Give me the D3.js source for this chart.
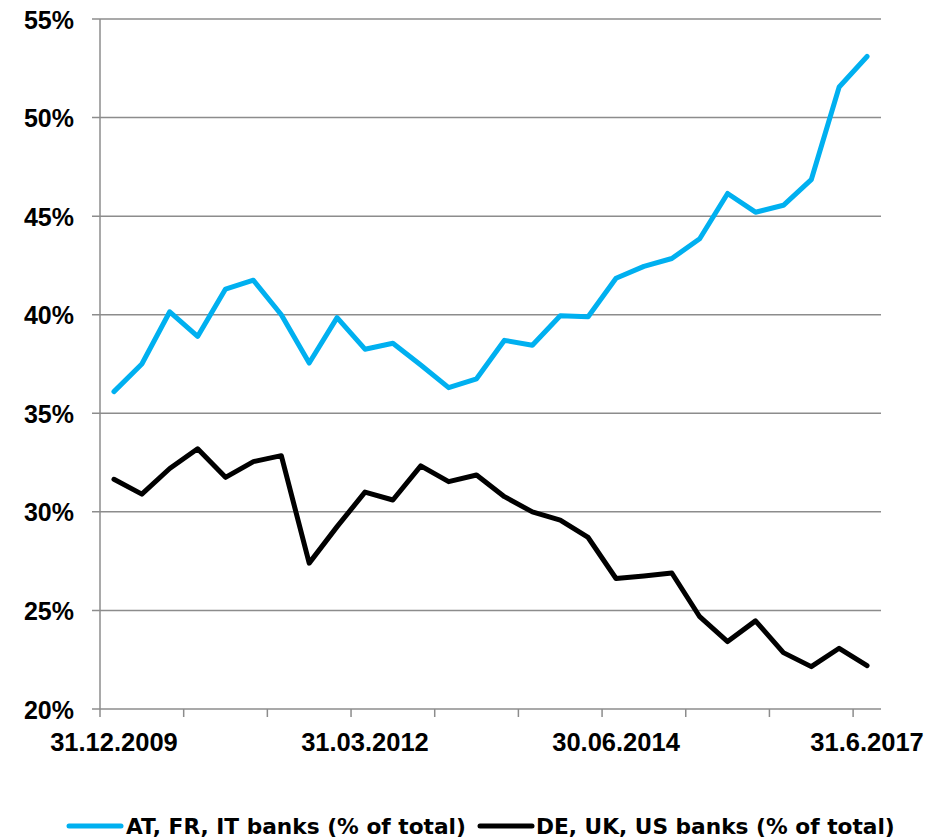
<!DOCTYPE html>
<html>
<head>
<meta charset="utf-8">
<script src="https://cdn.jsdelivr.net/npm/d3@7/dist/d3.min.js"></script>
<style>
  html, body { margin: 0; padding: 0; background: #fff; }
  svg { display: block; }
</style>
</head>
<body>
<svg id="chart" width="943" height="839"></svg>
<script>
// Quarter-end reporting dates
const quarters = [
  "31.12.2009", "31.03.2010", "30.06.2010", "30.09.2010",
  "31.12.2010", "31.03.2011", "30.06.2011", "30.09.2011",
  "31.12.2011", "31.03.2012", "30.06.2012", "30.09.2012",
  "31.12.2012", "31.03.2013", "30.06.2013", "30.09.2013",
  "31.12.2013", "31.03.2014", "30.06.2014", "30.09.2014",
  "31.12.2014", "31.03.2015", "30.06.2015", "30.09.2015",
  "31.12.2015", "31.03.2016", "30.06.2016", "30.09.2016"
];

// Labels printed under the axis, keyed by category position
const axisLabelIndex = [0, 9, 18, 27];
const axisLabelText = ["31.12.2009", "31.03.2012", "30.06.2014", "31.6.2017"];

// Share of total (%)
const atFrItBanks = [
  36.1, 37.5, 40.15, 38.9, 41.3, 41.75, 40.0, 37.55, 39.85, 38.25,
  38.55, 37.45, 36.3, 36.75, 38.7, 38.45, 39.95, 39.9, 41.85, 42.45,
  42.85, 43.85, 46.15, 45.2, 45.55, 46.85, 51.55, 53.1
];
const deUkUsBanks = [
  31.65, 30.9, 32.2, 33.2, 31.75, 32.55, 32.85, 27.4, 29.25, 31.0,
  30.6, 32.33, 31.53, 31.87, 30.77, 30.0, 29.58, 28.7, 26.62, 26.75,
  26.9, 24.68, 23.42, 24.47, 22.86, 22.15, 23.08, 22.2
];

const yTicks = [20, 25, 30, 35, 40, 45, 50, 55];

const seriesNames = ["AT, FR, IT banks (% of total)", "DE, UK, US banks (% of total)"];
const seriesColors = ["#00B0F0", "#000000"];

const svg = d3.select("#chart");
const plotLeft = 100, plotRight = 881, plotTop = 19, plotBottom = 709;

const x = d3.scaleBand().domain(d3.range(quarters.length)).range([plotLeft, plotRight]).padding(0);
const y = d3.scaleLinear().domain([20, 55]).range([plotBottom, plotTop]);
const cx = i => x(i) + x.bandwidth() / 2;

const gridColor = "#8c8c8c";

// Horizontal gridlines with small outward ticks
svg.append("g")
  .selectAll("line")
  .data(yTicks)
  .join("line")
  .attr("x1", plotLeft - 8)
  .attr("x2", plotRight)
  .attr("y1", d => y(d))
  .attr("y2", d => y(d))
  .attr("stroke", gridColor)
  .attr("stroke-width", 1.5);

// Vertical axis line
svg.append("line")
  .attr("x1", plotLeft).attr("x2", plotLeft)
  .attr("y1", y(55)).attr("y2", y(20))
  .attr("stroke", gridColor).attr("stroke-width", 1.5);

// Y axis labels
const yAxis = d3.axisLeft(y)
  .tickValues(yTicks)
  .tickFormat(d => d + "%")
  .tickSize(0)
  .tickPadding(26);
const gy = svg.append("g").attr("transform", `translate(${plotLeft},0)`).call(yAxis);
gy.select(".domain").remove();
gy.selectAll("text")
  .attr("font-family", "'Liberation Sans', Arial, sans-serif")
  .attr("font-weight", "bold")
  .attr("font-size", 25)
  .attr("fill", "#000")
  .attr("dy", "0.36em");

// X tick marks between categories, every third quarter
const tickBounds = d3.range(0, quarters.length, 3);
svg.append("g")
  .selectAll("line")
  .data(tickBounds)
  .join("line")
  .attr("x1", d => x(d))
  .attr("x2", d => x(d))
  .attr("y1", plotBottom)
  .attr("y2", plotBottom + 8)
  .attr("stroke", gridColor)
  .attr("stroke-width", 1.5);

// X axis labels centred on their categories
const xAxis = d3.axisBottom(x)
  .tickValues(axisLabelIndex)
  .tickFormat(d => axisLabelText[axisLabelIndex.indexOf(d)])
  .tickSize(0)
  .tickPadding(24);
const gx = svg.append("g").attr("transform", `translate(0,${plotBottom})`).call(xAxis);
gx.select(".domain").remove();
gx.selectAll("text")
  .attr("font-family", "'Liberation Sans', Arial, sans-serif")
  .attr("font-weight", "bold")
  .attr("font-size", 25.5)
  .attr("fill", "#000");

// Series lines
const line = d3.line().x((d, i) => cx(i)).y(d => y(d));
[atFrItBanks, deUkUsBanks].forEach((vals, k) => {
  svg.append("path")
    .datum(vals)
    .attr("d", line)
    .attr("fill", "none")
    .attr("stroke", seriesColors[k])
    .attr("stroke-width", 5)
    .attr("stroke-linejoin", "round")
    .attr("stroke-linecap", "round");
});

// Legend
const legendY = 826;
const legend = svg.append("g").attr("font-family", "'DejaVu Sans', sans-serif")
  .attr("font-weight", "bold").attr("font-size", 21.7);
const legendItems = [{ x0: 69, x1: 121, tx: 126 }, { x0: 480, x1: 532, tx: 536 }];
legendItems.forEach((p, k) => {
  legend.append("line")
    .attr("x1", p.x0).attr("x2", p.x1)
    .attr("y1", legendY).attr("y2", legendY)
    .attr("stroke", seriesColors[k])
    .attr("stroke-width", 5)
    .attr("stroke-linecap", "round");
  legend.append("text")
    .attr("x", p.tx).attr("y", legendY + 8)
    .attr("fill", "#000")
    .text(seriesNames[k]);
});
</script>
</body>
</html>
